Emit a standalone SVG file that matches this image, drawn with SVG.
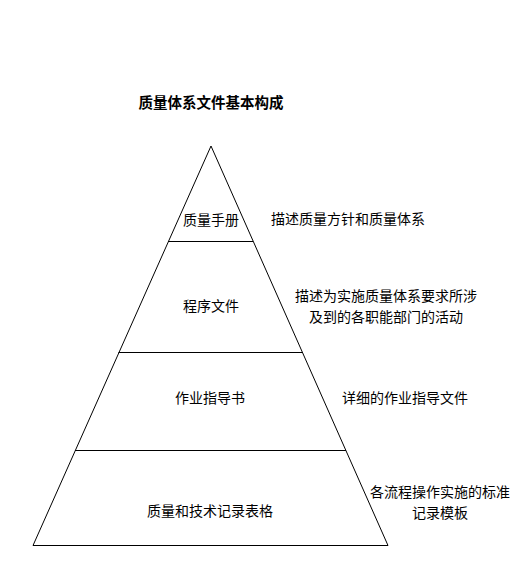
<svg xmlns="http://www.w3.org/2000/svg" width="527" height="585" viewBox="0 0 527 585">
<style>
text{font-family:"Liberation Sans","Noto Sans CJK SC",sans-serif;font-size:14px;fill:#000;dominant-baseline:central;text-anchor:middle}
.title{font-weight:bold;font-size:14.5px}
.ln{stroke:#000;stroke-width:1;fill:none}
</style>
<rect width="527" height="585" fill="#fff"/>
<text class="title" x="211" y="103">质量体系文件基本构成</text>
<g id="pyramid">
<polygon class="ln" points="211,146 33,545.5 388,545.5"/>
</g>
<g id="connectors">
<line class="ln" x1="168" y1="241.5" x2="253" y2="241.5"/>
<line class="ln" x1="118.5" y1="352.5" x2="302.5" y2="352.5"/>
<line class="ln" x1="75" y1="450.5" x2="346" y2="450.5"/>
</g>
<g id="level1"><text x="211" y="220">质量手册</text></g>
<g id="level2"><text x="211" y="306">程序文件</text></g>
<g id="level3"><text x="210" y="398">作业指导书</text></g>
<g id="level4"><text x="210" y="511">质量和技术记录表格</text></g>
<g id="desc1"><text x="348" y="219">描述质量方针和质量体系</text></g>
<g id="desc2"><text x="386" y="296">描述为实施质量体系要求所涉</text><text x="386" y="317">及到的各职能部门的活动</text></g>
<g id="desc3"><text x="405" y="398">详细的作业指导文件</text></g>
<g id="desc4"><text x="440" y="492">各流程操作实施的标准</text><text x="440" y="513">记录模板</text></g>
</svg>
